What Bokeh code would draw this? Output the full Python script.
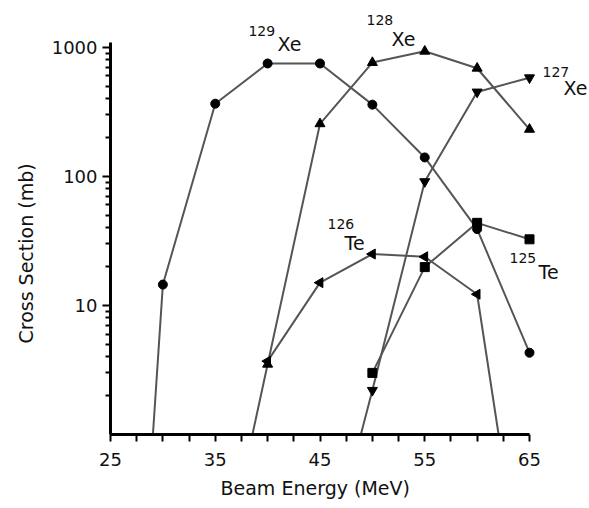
import math
from bokeh.plotting import figure
from bokeh.models import (Range1d, FixedTicker, Label, PrintfTickFormatter,
                          Title)
from bokeh.embed import file_html
from bokeh.resources import INLINE

# ---- data ----
# beam energies (MeV) and cross sections (mb) for each product
xe129_energy = [30, 35, 40, 45, 50, 55, 60, 65]
xe129_sigma = [14.5, 365, 748, 748, 359, 140, 39, 4.3]
xe129_onset = 29.05          # energy where the curve drops below 1 mb

xe128_energy = [40, 45, 50, 55, 60, 65]
xe128_sigma = [3.5, 255, 760, 930, 687, 231]
xe128_onset = 38.55

xe127_energy = [50, 55, 60, 65]
xe127_sigma = [2.2, 91, 450, 580]
xe127_onset = 48.9

te126_energy = [40, 45, 50, 55, 60]
te126_sigma = [3.7, 15, 25, 23.8, 12.2]
te126_end = 62.05            # energy where the curve drops below 1 mb

te125_energy = [50, 55, 60, 65]
te125_sigma = [3.0, 19.8, 43.6, 32.5]

x_major = [25, 35, 45, 55, 65]
x_minor = [27.5, 30, 32.5, 37.5, 40, 42.5, 47.5, 50, 52.5, 57.5, 60, 62.5]
y_major = [10, 100, 1000]
y_minor = [m * d for d in (1, 10, 100) for m in range(2, 10)]

FONT = "DejaVu Sans"
LINE = "#555555"
TXT = "#111111"

# frame: left edge at 25 MeV, bottom at 1 mb; it extends to the top/right
# edges of the page so the isotope labels are not clipped
X_END = 25 + 479 / 10.475
Y_END = 10 ** (434 / 129.1)

p = figure(width=589, height=508, y_axis_type="log",
           x_range=Range1d(25, X_END), y_range=Range1d(1, Y_END),
           output_backend="svg", toolbar_location=None,
           min_border_left=110, min_border_right=0,
           min_border_top=0, min_border_bottom=74)
p.grid.visible = False
p.outline_line_color = None
p.background_fill_color = "white"
p.border_fill_color = "white"

FLOOR = 1.0

def series(xs, ys, marker, size, angle=0.0, onset=None, end=None):
    lx, ly = list(xs), list(ys)
    if onset is not None:
        lx = [onset] + lx
        ly = [FLOOR] + ly
    if end is not None:
        lx = lx + [end]
        ly = ly + [FLOOR]
    p.line(lx, ly, line_color=LINE, line_width=2)
    p.scatter(xs, ys, marker=marker, size=size, angle=angle,
              fill_color="black", line_color="black")

series(xe129_energy, xe129_sigma, "circle", 9, onset=xe129_onset)
series(xe128_energy, xe128_sigma, "triangle", 10, onset=xe128_onset)
series(xe127_energy, xe127_sigma, "inverted_triangle", 10, onset=xe127_onset)
series(te126_energy, te126_sigma, "triangle", 10, angle=math.pi / 2, end=te126_end)
series(te125_energy, te125_sigma, "square", 9)

# axes
for ax in (p.xaxis, p.yaxis):
    ax.axis_line_width = 3
    ax.axis_line_color = "black"
    ax.major_tick_line_width = 2
    ax.minor_tick_line_width = 2
    ax.major_tick_line_color = "black"
    ax.minor_tick_line_color = "black"
    ax.major_tick_in = 0
    ax.minor_tick_in = 0
    ax.major_label_text_font = FONT
    ax.major_label_text_font_size = "18px"
    ax.major_label_text_color = TXT

p.xaxis.ticker = FixedTicker(ticks=x_major, minor_ticks=x_minor)
p.xaxis.bounds = (25, 65)
p.xaxis.major_tick_out = 7
p.xaxis.minor_tick_out = 7
p.xaxis.major_label_standoff = 11

p.yaxis.ticker = FixedTicker(ticks=y_major, minor_ticks=y_minor)
p.yaxis.formatter = PrintfTickFormatter(format="%d")
p.yaxis.bounds = (1, 1080)
p.yaxis.major_tick_out = 8
p.yaxis.minor_tick_out = 5
p.yaxis.major_label_standoff = 5

# axis titles, aligned like the reference (not centred on the wide frame)
p.add_layout(Title(text="Beam Energy (MeV)", align="left", offset=110,
                   text_font=FONT, text_font_size="19px",
                   text_font_style="normal", text_color=TXT,
                   standoff=12), "below")
p.add_layout(Title(text="Cross Section (mb)", align="left", offset=91,
                   text_font=FONT, text_font_size="19px",
                   text_font_style="normal", text_color=TXT,
                   standoff=24), "left")

# isotope labels (mass number as superscript)
labels = [
    ("129", 38.17, 1346, "Xe", 40.94, 1068),
    ("128", 49.44, 1610, "Xe", 51.83, 1167),
    ("127", 66.24, 648, "Xe", 68.25, 487),
    ("126", 45.72, 43, "Te", 47.34, 30.7),
    ("125", 63.09, 23.1, "Te", 65.86, 18.3),
]
for mass, mx, my, sym, sx, sy in labels:
    p.add_layout(Label(x=mx, y=my, text=mass, text_font=FONT,
                       text_font_size="14px", text_baseline="middle",
                       text_align="left", text_color=TXT))
    p.add_layout(Label(x=sx, y=sy, text=sym, text_font=FONT,
                       text_font_size="19px", text_baseline="middle",
                       text_align="left", text_color=TXT))

open("out.html", "w").write(file_html(p, INLINE))
